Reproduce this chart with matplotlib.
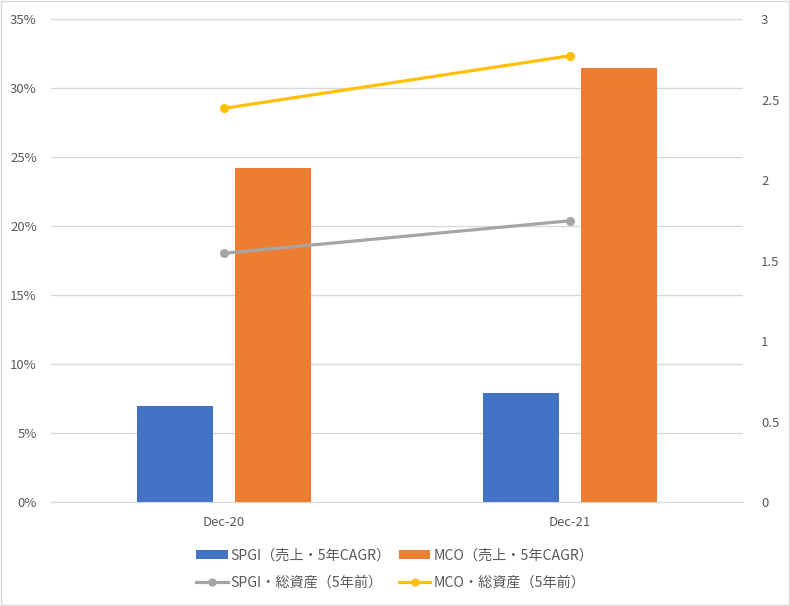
import matplotlib
matplotlib.use("Agg")
import matplotlib.pyplot as plt
from matplotlib.ticker import FuncFormatter, FixedLocator
import numpy as np

plt.rcParams['font.family'] = ['Noto Sans CJK JP', 'DejaVu Sans']

categories = ["Dec-20", "Dec-21"]
spgi_cagr = [6.96, 7.92]      # %
mco_cagr = [24.22, 31.43]     # %
spgi_assets = [1.545, 1.747]
mco_assets = [2.445, 2.772]
left_ticks = [0, 5, 10, 15, 20, 25, 30, 35]
right_ticks = [0, 0.5, 1, 1.5, 2, 2.5, 3]

label_spgi_bar = "SPGI（売上・5年CAGR）"
label_mco_bar = "MCO（売上・5年CAGR）"
label_spgi_line = "SPGI・総資産（5年前）"
label_mco_line = "MCO・総資産（5年前）"

c_blue = "#4472C4"
c_orange = "#ED7D31"
c_gray = "#A5A5A5"
c_yellow = "#FFC000"
tick_color = "#595959"

fig = plt.figure(figsize=(7.9, 6.06), dpi=100)
ax = fig.add_axes([0.0642, 0.1716, 0.8763, 0.797])
ax2 = ax.twinx()

x = np.arange(len(categories))
w = 0.22
off = 0.142
b1 = ax.bar(x - off, spgi_cagr, w, color=c_blue, label=label_spgi_bar, zorder=2)
b2 = ax.bar(x + off, mco_cagr, w, color=c_orange, label=label_mco_bar, zorder=2)

l1, = ax2.plot(x, spgi_assets, color=c_gray, lw=2.3, marker='o', ms=5.5, label=label_spgi_line)
l2, = ax2.plot(x, mco_assets, color=c_yellow, lw=2.3, marker='o', ms=5.5, label=label_mco_line)

ax.set_xlim(-0.5, 1.5)
ax.set_ylim(0, 35)
ax2.set_ylim(0, 3)
ax.yaxis.set_major_locator(FixedLocator(left_ticks))
ax2.yaxis.set_major_locator(FixedLocator(right_ticks))
ax.yaxis.set_major_formatter(FuncFormatter(lambda v, p: f"{int(v)}%"))
ax2.yaxis.set_major_formatter(FuncFormatter(lambda v, p: f"{v:g}"))
ax.set_xticks(x)
ax.set_xticklabels(categories)

ax.grid(axis='y', color="#D9D9D9", lw=1.0, zorder=0)
ax.set_axisbelow(True)
for a in (ax, ax2):
    for s in ('top', 'right', 'left', 'bottom'):
        a.spines[s].set_visible(False)
    a.tick_params(length=0, colors=tick_color, labelsize=9.5)
ax.spines['bottom'].set_visible(True)
ax.spines['bottom'].set_color("#D9D9D9")
ax.tick_params(axis='y', pad=10)
ax2.tick_params(axis='y', pad=13)
ax.tick_params(axis='x', pad=10)

leg = fig.legend([b1, l1, b2, l2], [label_spgi_bar, label_spgi_line, label_mco_bar, label_mco_line],
                 loc='center', bbox_to_anchor=(0.4997, 0.061), ncol=2, frameon=False,
                 fontsize=10.2, handlelength=2.2, handleheight=0.6, handletextpad=0.2,
                 columnspacing=0.6, labelspacing=0.95, markerscale=0.9)
for t in leg.get_texts():
    t.set_color(tick_color)

fig.patches.append(plt.Rectangle((0.001, 0.001), 0.998, 0.998, transform=fig.transFigure,
                                 fill=False, edgecolor="#D9D9D9", lw=1))

fig.savefig("out.png", dpi=100)
